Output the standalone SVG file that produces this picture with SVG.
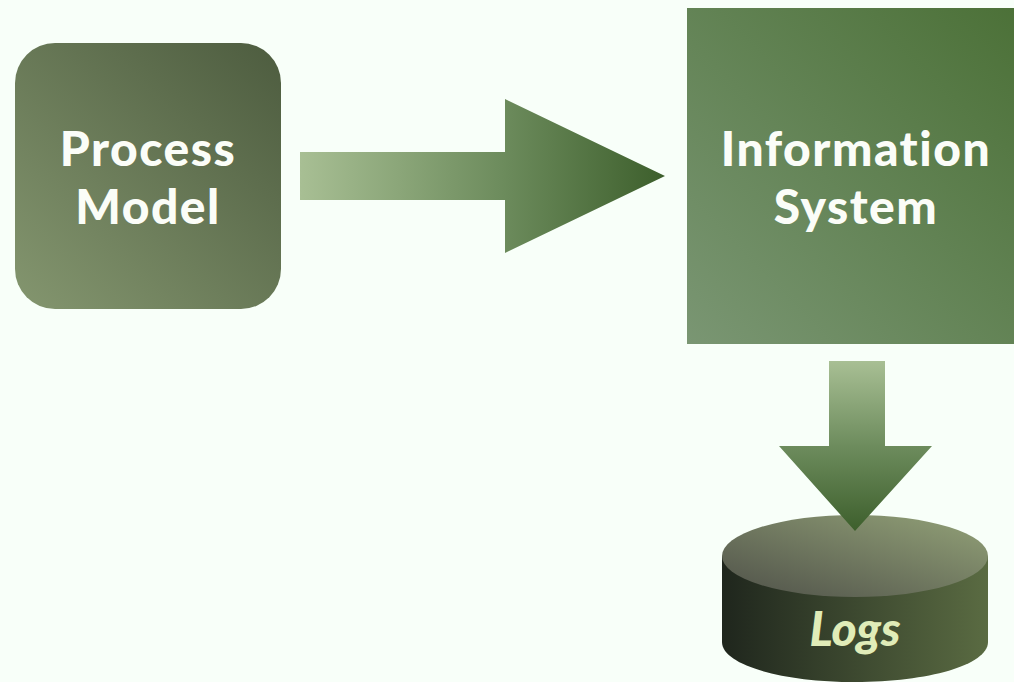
<svg xmlns="http://www.w3.org/2000/svg" width="1014" height="682" viewBox="0 0 1014 682">
<style>
.t{font-family:"Lato","Liberation Sans",sans-serif;font-weight:900;font-size:48px;fill:#fbfdf8;text-anchor:middle;letter-spacing:1.5px}
</style>
<defs>
<linearGradient id="g1" x1="0" y1="1" x2="1" y2="0"><stop offset="0" stop-color="#84966f"/><stop offset="1" stop-color="#4d5c3f"/></linearGradient>
<linearGradient id="g2" x1="0" y1="1" x2="1" y2="0"><stop offset="0" stop-color="#7a9673"/><stop offset="1" stop-color="#4c7138"/></linearGradient>
<linearGradient id="a1" gradientUnits="userSpaceOnUse" x1="300" y1="0" x2="665" y2="0"><stop offset="0" stop-color="#a8bf94"/><stop offset="0.55" stop-color="#6d8c5d"/><stop offset="1" stop-color="#3d5f2c"/></linearGradient>
<linearGradient id="a2" gradientUnits="userSpaceOnUse" x1="0" y1="361" x2="0" y2="531"><stop offset="0" stop-color="#a8bf94"/><stop offset="0.5" stop-color="#6d8c5d"/><stop offset="1" stop-color="#3d5f2c"/></linearGradient>
<linearGradient id="c1" x1="0" y1="0" x2="1" y2="0"><stop offset="0" stop-color="#1f261d"/><stop offset="1" stop-color="#5a6b42"/></linearGradient>
<linearGradient id="c2" x1="0" y1="1" x2="1" y2="0"><stop offset="0" stop-color="#4f5149"/><stop offset="1" stop-color="#93a278"/></linearGradient>
</defs>
<rect width="1014" height="682" fill="#f8fff9"/>
<g id="process-model">
<rect x="15" y="43" width="266" height="266" rx="40" fill="url(#g1)"/>
<text class="t" x="148" y="166">Process</text>
<text class="t" x="148" y="224">Model</text>
</g>
<g id="information-system">
<rect x="687" y="8" width="327" height="336" fill="url(#g2)"/>
<text class="t" x="856" y="166">Information</text>
<text class="t" x="856" y="224">System</text>
</g>
<g id="logs">
<path d="M722 556V642C722 665 782 682 855 682S988 665 988 642V556Z" fill="url(#c1)"/>
<ellipse cx="855" cy="556" rx="133" ry="41" fill="url(#c2)"/>
<text x="855" y="646" style="font-family:'Lato','Liberation Sans',sans-serif;font-weight:900;font-style:italic;font-size:48px;fill:#e0ecb8;text-anchor:middle">Logs</text>
</g>
<g id="connectors">
<path d="M300 152H505V99L665 176L505 253V200H300Z" fill="url(#a1)"/>
<path d="M829 361H885V446H932L855 531L779 446H829Z" fill="url(#a2)"/>
</g>
</svg>
